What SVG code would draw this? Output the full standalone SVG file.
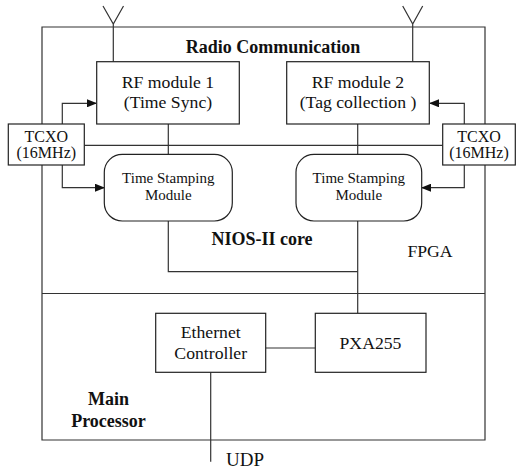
<svg xmlns="http://www.w3.org/2000/svg" width="516" height="469" viewBox="0 0 516 469">
<style>
.b{fill:#fff;stroke:#222;stroke-width:1.2}
.l{fill:none;stroke:#333;stroke-width:1.2}
text{font-family:"Liberation Serif","Times New Roman",serif;fill:#111;text-anchor:middle}
.t17{font-size:17.7px}
.t15{font-size:16px}
.t14{font-size:15px}
.bold{font-weight:bold;font-size:18px}
</style>
<defs>
<marker id="ah" markerWidth="10" markerHeight="8" refX="9" refY="4" orient="auto" markerUnits="userSpaceOnUse">
<path d="M0,0 L10,4 L0,8 Z" fill="#111"/>
</marker>
</defs>
<rect width="516" height="469" fill="#fff"/>
<g id="fpga-frame">
<path class="l" d="M42,124 V27 H485 V124 M42,165 V440 H485 V165"/>
<line class="l" x1="42" y1="293.5" x2="485" y2="293.5"/>
<text class="bold" x="273" y="53">Radio Communication</text>
<text class="bold" x="262" y="245">NIOS-II core</text>
<text class="t17" x="430" y="257">FPGA</text>
<text class="bold" x="108.5" y="405">Main</text>
<text class="bold" x="108.5" y="427">Processor</text>
</g>
<g id="connectors">
<path class="l" d="M103,6 L113.3,24 L123.5,6 M113.3,24 V61.7"/>
<path class="l" d="M402.7,6 L412.7,24 L422.7,6 M412.7,24 V61.7"/>
<line class="l" x1="84.3" y1="145.3" x2="442.7" y2="145.3"/>
<path class="l" d="M62.3,124 V103.3 H96" marker-end="url(#ah)"/>
<path class="l" d="M62.3,165 V187.7 H104" marker-end="url(#ah)"/>
<path class="l" d="M464.3,124 V103.3 H430" marker-end="url(#ah)"/>
<path class="l" d="M464.3,165 V187.7 H422" marker-end="url(#ah)"/>
<line class="l" x1="168.3" y1="124" x2="168.3" y2="154.3"/>
<path class="l" d="M168.3,221 V271.7 H357.7"/>
<line class="l" x1="357.7" y1="124" x2="357.7" y2="154.3"/>
<line class="l" x1="357.7" y1="221" x2="357.7" y2="313.3"/>
<line class="l" x1="265.7" y1="348" x2="315.3" y2="348"/>
<line class="l" x1="210.7" y1="372.3" x2="210.7" y2="461.7"/>
<text x="245" y="466" style="font-size:19px">UDP</text>
</g>
<g id="rf1">
<rect class="b" x="96.7" y="61.7" width="142.6" height="62.3"/>
<text class="t17" x="168" y="87.5">RF module 1</text>
<text class="t17" x="168" y="108">(Time Sync)</text>
</g>
<g id="rf2">
<rect class="b" x="286.7" y="61.7" width="142.6" height="62.3"/>
<text class="t17" x="358" y="87.5">RF module 2</text>
<text class="t17" x="358" y="108">(Tag collection )</text>
</g>
<g id="tcxo-left">
<rect class="b" x="8.3" y="124" width="76" height="41"/>
<text class="t15" x="46.3" y="141.5">TCXO</text>
<text class="t15" x="46.3" y="158.3">(16MHz)</text>
</g>
<g id="tcxo-right">
<rect class="b" x="442.7" y="124" width="72.6" height="41"/>
<text class="t15" x="479" y="141.5">TCXO</text>
<text class="t15" x="479" y="158.3">(16MHz)</text>
</g>
<g id="tsm1">
<rect class="b" x="104.3" y="154.3" width="128" height="66.7" rx="18" ry="18"/>
<text class="t14" x="168.3" y="182.7">Time Stamping</text>
<text class="t14" x="168.3" y="200">Module</text>
</g>
<g id="tsm2">
<rect class="b" x="296" y="154.3" width="125.7" height="66.7" rx="18" ry="18"/>
<text class="t14" x="358.8" y="182.7">Time Stamping</text>
<text class="t14" x="358.8" y="200">Module</text>
</g>
<g id="ethernet">
<rect class="b" x="155.7" y="313.3" width="110" height="59"/>
<text class="t17" x="210.7" y="338.3">Ethernet</text>
<text class="t17" x="210.7" y="359">Controller</text>
</g>
<g id="pxa255">
<rect class="b" x="315.3" y="313.3" width="110.7" height="59"/>
<text class="t17" x="370.5" y="349.3">PXA255</text>
</g>
</svg>
